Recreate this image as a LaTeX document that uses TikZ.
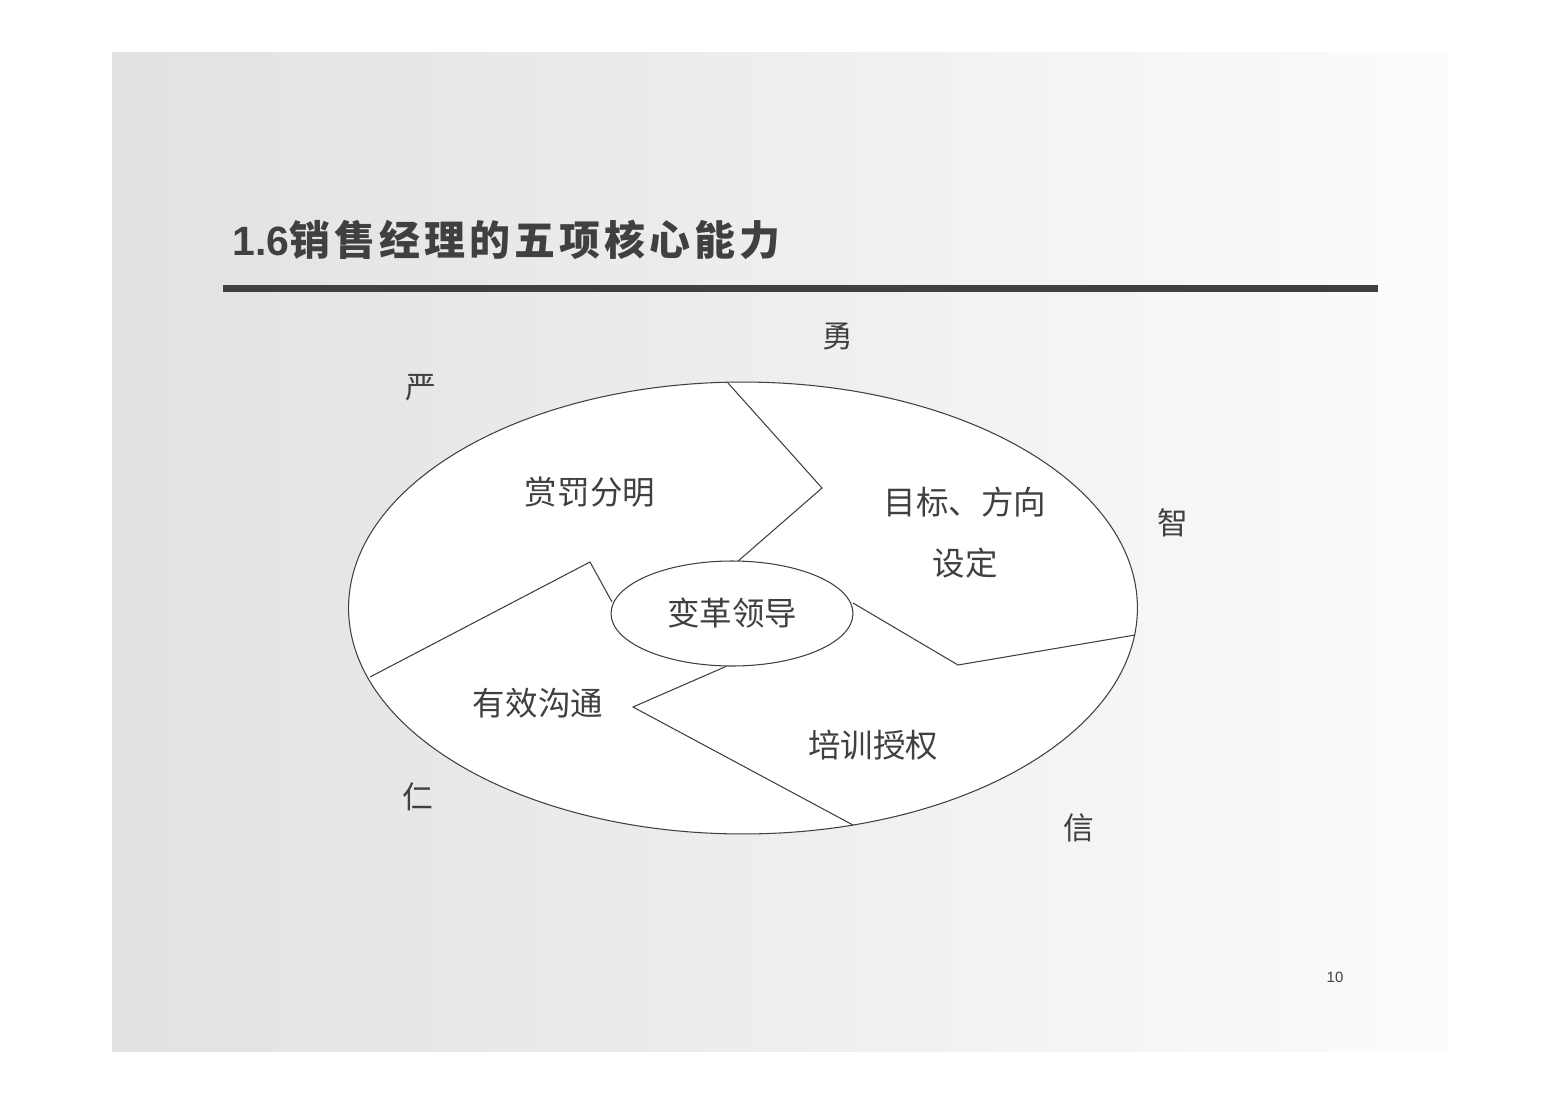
\documentclass[tikz,border=0pt]{standalone}
\usepackage{fontspec}
\setmainfont{Liberation Sans}
\newfontfamily\cjk{Noto Sans CJK SC}
\newfontfamily\cjkhead{Noto Sans CJK SC}[LetterSpace=10]
\usetikzlibrary{shapes.geometric}
\definecolor{ink}{HTML}{404040}
\definecolor{bgleft}{HTML}{D5D5D5}
\definecolor{bgmid}{HTML}{EEEEEE}
\definecolor{bgright}{HTML}{FCFCFC}
\pgfdeclarehorizontalshading{slidebg}{100bp}{color(0bp)=(bgleft); color(50bp)=(bgmid); color(75bp)=(bgright); color(100bp)=(bgright)}
\tikzset{
	ring/.style={ellipse,draw=ink,fill=white,inner sep=0pt},
	word/.style={text=ink,font=\cjk\fontsize{18.5}{22}\selectfont},
	virtue/.style={text=ink,font=\cjk\fontsize{17.5}{21}\selectfont}
}

\begin{document}
\begin{tikzpicture}[x=0.02cm,y=-0.02cm,line width=0.6pt]
	\useasboundingbox[fill=white] (0,0) rectangle (1559,1102);
	\shade[shading=slidebg] (112,52) rectangle (1447,1051);

	% title and bar
	\node[anchor=base west,inner sep=0pt,text=ink,font=\fontsize{23.3}{28}\selectfont\bfseries] at (232,255) (title) {1.6{\cjkhead 销售经理的五项核心能力}};
	\fill[ink] (223,285) rectangle (1378,292);

	% outer ring
	\node[ring,minimum width=15.78cm,minimum height=9.04cm] at (743,608) (outer) {};

	\coordinate (top) at (728,383);
	\coordinate (topk) at (822,488);
	\coordinate (coretop) at (737,562);
	\coordinate (left) at (370,677);
	\coordinate (leftk) at (590,562);
	\coordinate (coreleft) at (612,602);
	\coordinate (bottom) at (853,825);
	\coordinate (bottomk) at (633,707);
	\coordinate (corebottom) at (727,666);
	\coordinate (right) at (1135,635);
	\coordinate (rightk) at (958,665);
	\coordinate (coreright) at (853,603);

	\draw[ink] (top) -- (topk) -- (coretop)
		(left) -- (leftk) -- (coreleft)
		(bottom) -- (bottomk) -- (corebottom)
		(right) -- (rightk) -- (coreright);

	\node[ring,minimum width=4.84cm,minimum height=2.1cm,word] at (732,613.5) (core) {变革领导};

	\node[word] at (590,492) (reward) {赏罚分明};
	\node[word,align=center] at (965,533) (goal) {目标、方向\\[0.45cm]设定};
	\node[word] at (538,703) (talk) {有效沟通};
	\node[word] at (873,745) (train) {培训授权};

	\node[virtue] at (838,336) (brave) {勇};
	\node[virtue] at (421,388) (strict) {严};
	\node[virtue] at (1173,523) (wise) {智};
	\node[virtue] at (418,797) (kind) {仁};
	\node[virtue] at (1079,828) (trust) {信};

	\node[text=ink,font=\fontsize{8.5}{10}\selectfont] at (1335,977) (page) {10};
\end{tikzpicture}
\end{document}
